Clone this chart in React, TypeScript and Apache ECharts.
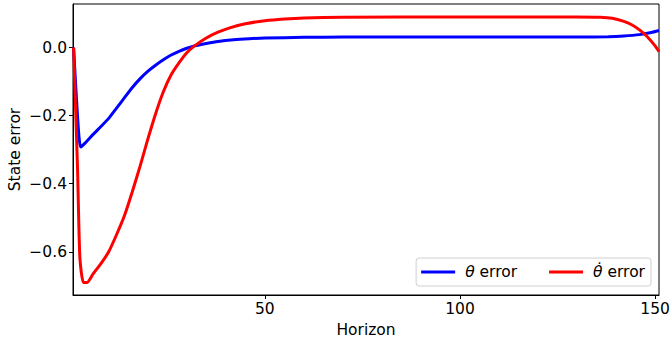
import React, { useEffect, useRef } from "react";
import * as echarts from "echarts";

const thetaX = [1, 2, 2.8, 4, 6, 8, 10, 12, 14, 16, 18, 20, 22, 24, 26, 28, 30, 32, 35, 38, 42, 46, 50, 60, 70, 100, 130, 138, 142, 146, 149, 151];
const thetaY = [0, -0.2, -0.292, -0.28, -0.255, -0.232, -0.208, -0.178, -0.148, -0.118, -0.092, -0.07, -0.052, -0.036, -0.022, -0.011, -0.002, 0.005, 0.012, 0.018, 0.023, 0.026, 0.028, 0.03, 0.031, 0.031, 0.031, 0.032, 0.034, 0.038, 0.044, 0.05];

const thetaDotX = [1, 2, 2.6, 3.5, 4.5, 6, 8, 10, 12, 14, 16, 18, 20, 22, 24, 26, 28, 30, 32, 35, 38, 41, 45, 50, 55, 60, 70, 100, 130, 136, 139, 142, 144, 146, 148, 150, 151];
const thetaDotY = [0, -0.35, -0.615, -0.69, -0.69, -0.665, -0.635, -0.6, -0.55, -0.495, -0.425, -0.35, -0.27, -0.195, -0.13, -0.08, -0.045, -0.015, 0.005, 0.028, 0.045, 0.058, 0.07, 0.079, 0.084, 0.087, 0.089, 0.09, 0.09, 0.089, 0.086, 0.077, 0.067, 0.052, 0.032, 0.005, -0.012];

const xTicks = [50, 100, 150];
const yTicks = [-0.6, -0.4, -0.2, 0];

const seriesNames = ["theta", "thetaDot"];

export default function App() {
  const ref = useRef<HTMLDivElement>(null);
  useEffect(() => {
    if (!ref.current) return;
    const chart = echarts.init(ref.current, null, { renderer: "svg" });
    const font = "DejaVu Sans";
    const fs = 15.5;
    chart.setOption({
      animation: false,
      textStyle: { fontFamily: font },
      grid: {
        left: 73,
        right: 11,
        top: 4,
        bottom: 44,
        containLabel: false,
        outerBoundsMode: "none",
        show: true,
        borderColor: "#000",
        borderWidth: 1,
        backgroundColor: "transparent",
      },
      legend: {
        data: seriesNames,
        right: 19,
        bottom: 53,
        orient: "horizontal",
        icon: "rect",
        itemWidth: 34,
        itemHeight: 3,
        itemGap: 32,
        padding: [6, 6, 6, 5],
        backgroundColor: "#fff",
        borderColor: "#d0d0d0",
        borderWidth: 1,
        borderRadius: 3,
        formatter: (name: string) => (name === "theta" ? "{i|θ} error" : "{i|θ̇} error"),
        textStyle: {
          fontFamily: font,
          fontSize: fs,
          color: "#000",
          padding: [0, 0, 0, 5],
          rich: {
            i: { fontStyle: "italic", fontFamily: font, fontSize: fs, color: "#000" },
          },
        },
      },
      xAxis: {
        type: "value",
        min: 0.85,
        max: 151,
        name: "Horizon",
        nameLocation: "middle",
        nameGap: 27,
        nameMoveOverlap: false,
        nameTextStyle: { fontFamily: font, fontSize: fs, color: "#000" },
        axisLine: { show: true, onZero: false, lineStyle: { color: "#000", width: 1 } },
        axisTick: { show: true, customValues: xTicks, length: 4, lineStyle: { color: "#000" } },
        axisLabel: { customValues: xTicks, fontFamily: font, fontSize: fs, color: "#000", margin: 6 },
        splitLine: { show: false },
      },
      yAxis: {
        type: "value",
        min: -0.727,
        max: 0.128,
        name: "State error",
        nameLocation: "middle",
        nameGap: 50,
        nameMoveOverlap: false,
        nameTextStyle: { fontFamily: font, fontSize: fs, color: "#000" },
        axisLine: { show: true, onZero: false, lineStyle: { color: "#000", width: 1 } },
        axisTick: { show: true, customValues: yTicks, length: 4, lineStyle: { color: "#000" } },
        axisLabel: {
          customValues: yTicks,
          fontFamily: font,
          fontSize: fs,
          color: "#000",
          margin: 6,
          formatter: (v: number) => (v < 0 ? "\u2212" + Math.abs(v).toFixed(1) : v.toFixed(1)),
        },
        splitLine: { show: false },
      },
      series: [
        {
          name: "theta",
          type: "line",
          data: thetaX.map((x, i) => [x, thetaY[i]]),
          showSymbol: false,
          smooth: 0.2,
          lineStyle: { color: "#0000ff", width: 3 },
          itemStyle: { color: "#0000ff" },
        },
        {
          name: "thetaDot",
          type: "line",
          data: thetaDotX.map((x, i) => [x, thetaDotY[i]]),
          showSymbol: false,
          smooth: 0.2,
          lineStyle: { color: "#ff0000", width: 3 },
          itemStyle: { color: "#ff0000" },
        },
      ],
    });
    return () => chart.dispose();
  }, []);
  return <div ref={ref} style={{ width: 670, height: 339, position: "absolute", left: 0, top: 0 }} />;
}
